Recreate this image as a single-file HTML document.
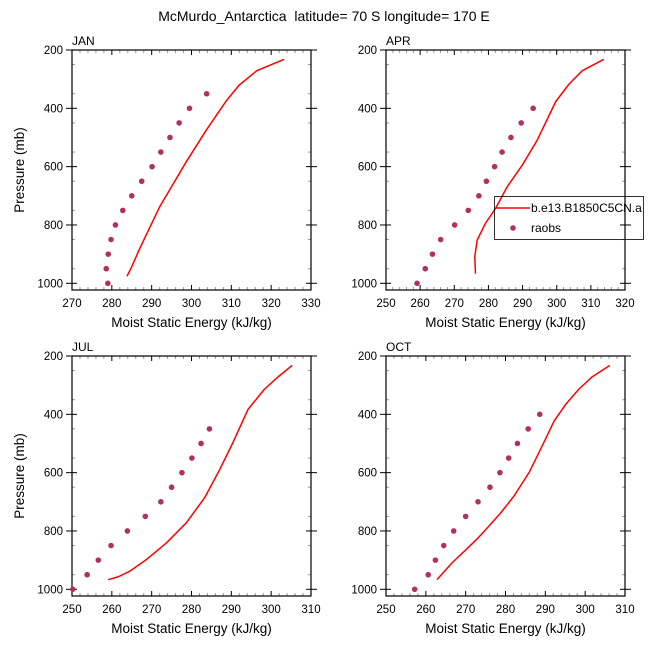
<!DOCTYPE html>
<html><head><meta charset="utf-8"><style>
body{margin:0;background:#fff}
svg{display:block;font-family:"Liberation Sans",sans-serif}
</style></head><body>
<svg id="chart" width="648" height="648" viewBox="0 0 648 648">
<text x="324" y="21" text-anchor="middle" font-size="14" style="white-space:pre">McMurdo_Antarctica  latitude= 70 S longitude= 170 E</text>
</svg>
<script>
const janModelX=[283.8,284.9,287,292,298.7,303.7,308.7,312,316.4,323.25];
const janModelP=[976,946,881,738,583,475,375,320,271,232];
const janObsX=[279,278.6,279.1,279.8,280.9,282.75,285,287.5,290.1,292.3,294.6,296.9,299.5,303.8];
const janObsP=[1000,950,900,850,800,750,700,650,600,550,500,450,400,350];
const aprModelX=[276.2,276,276.7,279.1,282.1,285.5,289.9,294.3,299.7,303.6,307.5,313.8];
const aprModelP=[967,909,852,795,743,669,595,509,377,317,271,232];
const aprObsX=[259.1,261.5,263.6,266,270.1,274.1,277.2,279.4,281.8,284,286.6,289.6,293.1];
const aprObsP=[1000,950,900,850,800,750,700,650,600,550,500,450,400];
const julModelX=[259.1,261.6,264.5,268.7,273.7,278.7,283.3,287.1,290.4,294.2,298.3,301.7,305.3];
const julModelP=[967,957,938,898,841,772,686,589,497,383,314,272,232];
const julObsX=[250.2,253.8,256.6,259.8,263.9,268.4,272.3,275,277.6,280.1,282.4,284.5];
const julObsP=[1000,950,900,850,800,750,700,650,600,550,500,450];
const octModelX=[262.8,266.6,270.4,272.9,275.8,278.8,282.1,285.9,288.8,292.2,295.1,298.4,301.8,306.2];
const octModelP=[967,909,860,827,784,738,681,600,520,423,366,314,271,232];
const octObsX=[257.2,260.6,262.4,264.5,267,270,273.1,276.1,278.6,280.8,283,285.7,288.6];
const octObsP=[1000,950,900,850,800,750,700,650,600,550,500,450,400];
const yTicks=[200,400,600,800,1000];
const panelTitles=["JAN","APR","JUL","OCT"];
const xRanges=[[270,330],[250,320],[250,310],[250,310]];

const NS="http://www.w3.org/2000/svg";
const svg=document.getElementById('chart');
function mk(tag,attrs,parent){const e=document.createElementNS(NS,tag);for(const k in attrs)e.setAttribute(k,attrs[k]);(parent||svg).appendChild(e);return e;}
const panels=[
 {x0:72,y0:50,model:[janModelX,janModelP],obs:[janObsX,janObsP],ylab:true},
 {x0:386,y0:50,model:[aprModelX,aprModelP],obs:[aprObsX,aprObsP],ylab:false},
 {x0:72,y0:356,model:[julModelX,julModelP],obs:[julObsX,julObsP],ylab:true},
 {x0:386,y0:356,model:[octModelX,octModelP],obs:[octObsX,octObsP],ylab:false}];
const W=239,H=240,PMIN=200,PMAX=1023;
panels.forEach((pn,i)=>{
 const [xmin,xmax]=xRanges[i];
 const sx=v=>pn.x0+(v-xmin)/(xmax-xmin)*W;
 const sy=p=>pn.y0+(p-PMIN)/(PMAX-PMIN)*H;
 const g=mk('g',{});
 
 
 const t=mk('text',{x:pn.x0,y:pn.y0-5,'font-size':12},g);t.textContent=panelTitles[i];
 
 
 for(let v=xmin;v<=xmax;v+=2){if((v-xmin)%10===0)continue;const x=sx(v);
  mk('line',{x1:x,x2:x,y1:pn.y0+H,y2:pn.y0+H-3,stroke:'#999'},g);
  mk('line',{x1:x,x2:x,y1:pn.y0,y2:pn.y0+3,stroke:'#999'},g);}
 for(let p=250;p<PMAX;p+=100){const y=sy(p);
  mk('line',{x1:pn.x0,x2:pn.x0+3,y1:y,y2:y,stroke:'#999'},g);
  mk('line',{x1:pn.x0+W,x2:pn.x0+W-3,y1:y,y2:y,stroke:'#999'},g);}
 for(let v=xmin;v<=xmax;v+=10){const x=sx(v);
  mk('line',{x1:x,x2:x,y1:pn.y0+H,y2:pn.y0+H-5,stroke:'#000'},g);
  mk('line',{x1:x,x2:x,y1:pn.y0,y2:pn.y0+5,stroke:'#000'},g);
  const l=mk('text',{x:x,y:pn.y0+H+17,'font-size':11.5,'text-anchor':'middle'},g);l.textContent=v;
  
  }
 yTicks.forEach(p=>{const y=sy(p);
  mk('line',{x1:pn.x0-6,x2:pn.x0+5,y1:y,y2:y,stroke:'#000'},g);
  mk('line',{x1:pn.x0+W+6,x2:pn.x0+W-5,y1:y,y2:y,stroke:'#000'},g);
  const l=mk('text',{x:pn.x0-9,y:y+4,'font-size':11.5,'text-anchor':'end'},g);l.textContent=p;
  
  });
 mk('rect',{x:pn.x0,y:pn.y0,width:W,height:H,fill:'none',stroke:'#000','stroke-width':1.2},g);
 const xt=mk('text',{x:pn.x0+W/2,y:pn.y0+H+37,'font-size':13.5,'text-anchor':'middle'},g);xt.textContent='Moist Static Energy (kJ/kg)';
 
 
 if(pn.ylab){const yt=mk('text',{x:0,y:0,'font-size':13.5,'text-anchor':'middle',transform:`translate(24,${pn.y0+H/2}) rotate(-90)`},g);yt.textContent='Pressure (mb)';
  
  }
 const [mx,mp]=pn.model;
 const line=mk('polyline',{points:mx.map((v,k)=>sx(v)+','+sy(mp[k])).join(' '),fill:'none',stroke:'#ff0000','stroke-width':1.5,'stroke-linejoin':'round'},g);
 
 
 const [ox,op]=pn.obs;
 ox.forEach((v,k)=>{const c=mk('circle',{cx:sx(v),cy:sy(op[k]),r:2.8,fill:'#b03060'},g);
  
  });
});
const lg=mk('g',{});


mk('rect',{x:494.5,y:196.5,width:149,height:43,fill:'none',stroke:'#000','stroke-width':0.8},lg);
mk('line',{x1:496,x2:530,y1:208,y2:208,stroke:'#ff0000','stroke-width':1.5},lg);
const l1=mk('text',{x:531,y:212,'font-size':12},lg);l1.textContent='b.e13.B1850C5CN.a';


mk('circle',{cx:513,cy:228,r:2.8,fill:'#b03060'},lg);
const l2=mk('text',{x:531,y:232,'font-size':12},lg);l2.textContent='raobs';


</script>
</body></html>
